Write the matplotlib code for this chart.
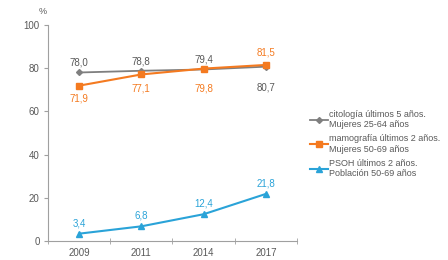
import matplotlib
matplotlib.use("Agg")
import matplotlib.pyplot as plt
from matplotlib.lines import Line2D

years = ["2009", "2011", "2014", "2017"]
citologia = [78.0, 78.8, 79.4, 80.7]
mamografia = [71.9, 77.1, 79.8, 81.5]
psoh = [3.4, 6.8, 12.4, 21.8]
series_names = ["citología últimos 5 años.\nMujeres 25-64 años",
                "mamografía últimos 2 años.\nMujeres 50-69 años",
                "PSOH últimos 2 años.\nPoblación 50-69 años"]
yticks = [0, 20, 40, 60, 80, 100]

plt.rcParams['font.family'] = ['Liberation Sans', 'DejaVu Sans']
fig = plt.figure(figsize=(4.48, 2.6), dpi=100)
ax = fig.add_axes([0.107, 0.073, 0.556, 0.831])

gray = "#7f7f7f"
orange = "#f47a20"
blue = "#2aa3d8"
x = list(range(len(years)))

ax.plot(x, citologia, color=gray, marker="D", markersize=3, lw=1.3)
ax.plot(x, mamografia, color=orange, marker="s", markersize=5, lw=1.5)
ax.plot(x, psoh, color=blue, marker="^", markersize=5, lw=1.5)

def fmt(v):
    return f"{v:.1f}".replace(".", ",")

tc = "#595959"
gray_off = [7.5, 6.5, 7, -15]
orange_off = [-9, -10, -14, 9]
for i, v in enumerate(citologia):
    ax.annotate(fmt(v), (i, v), xytext=(0, gray_off[i]), textcoords="offset points",
                ha="center", va="center", fontsize=7, color=tc)
for i, v in enumerate(mamografia):
    ax.annotate(fmt(v), (i, v), xytext=(0, orange_off[i]), textcoords="offset points",
                ha="center", va="center", fontsize=7, color=orange)
for i, v in enumerate(psoh):
    ax.annotate(fmt(v), (i, v), xytext=(0, 7.5), textcoords="offset points",
                ha="center", va="center", fontsize=7, color=blue)

ax.set_xlim(-0.5, 3.5)
ax.set_ylim(0, 100)
ax.set_yticks(yticks)
ax.set_xticks(x)
ax.set_xticklabels(years)
ax.set_xticks([-0.5, 0.5, 1.5, 2.5, 3.5], minor=True)
ax.tick_params(axis="x", which="major", length=0, labelsize=7, colors=tc, pad=5)
ax.tick_params(axis="x", which="minor", length=4, color="#a0a0a0", direction="inout")
ax.tick_params(axis="y", length=3, labelsize=7, colors=tc, color="#a0a0a0", pad=3)
for s in ["top", "right"]:
    ax.spines[s].set_visible(False)
for s in ["left", "bottom"]:
    ax.spines[s].set_color("#a0a0a0")
    ax.spines[s].set_linewidth(0.8)

fig.text(0.096, 0.955, "%", fontsize=6.5, color=tc, ha="center", va="center")

handles = [Line2D([], [], color=gray, marker="D", markersize=3, lw=1.3),
           Line2D([], [], color=orange, marker="s", markersize=4, lw=1.5),
           Line2D([], [], color=blue, marker="^", markersize=4, lw=1.5)]
fig.legend(handles, series_names, loc="center left", bbox_to_anchor=(0.683, 0.446),
           frameon=False, fontsize=6.5, handlelength=2.0, handletextpad=0.1,
           labelspacing=0.55, labelcolor=tc, borderaxespad=0)

fig.savefig("out.png", dpi=100, facecolor="white")
